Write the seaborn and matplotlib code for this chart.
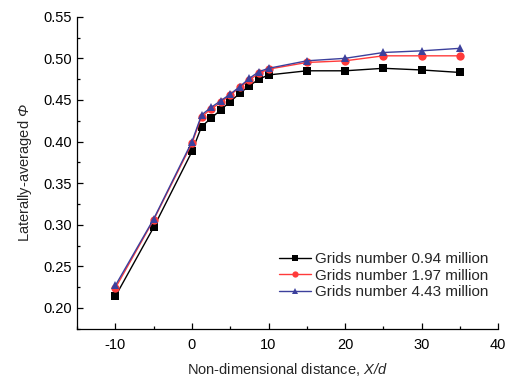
import matplotlib
matplotlib.use("Agg")
import matplotlib.pyplot as plt
import seaborn as sns
import pandas as pd
from matplotlib.ticker import MultipleLocator

x_vals = [-10, -5, 0, 1.25, 2.5, 3.75, 5, 6.25, 7.5, 8.75, 10, 15, 20, 25, 30, 35]
grid_094 = [0.214, 0.297, 0.388, 0.418, 0.428, 0.438, 0.448, 0.458, 0.467, 0.475, 0.480, 0.485, 0.485, 0.488, 0.486, 0.483]
grid_197 = [0.224, 0.306, 0.398, 0.430, 0.439, 0.447, 0.456, 0.465, 0.474, 0.482, 0.487, 0.495, 0.497, 0.503, 0.503, 0.503]
grid_443 = [0.227, 0.307, 0.400, 0.432, 0.441, 0.449, 0.457, 0.466, 0.476, 0.484, 0.488, 0.497, 0.500, 0.507, 0.509, 0.512]
labels = ["Grids number 0.94 million", "Grids number 1.97 million", "Grids number 4.43 million"]

rows = []
for lab, ys in zip(labels, [grid_094, grid_197, grid_443]):
    for xv, yv in zip(x_vals, ys):
        rows.append({"x": xv, "y": yv, "grid": lab})
df = pd.DataFrame(rows)

sns.set_style("ticks")
plt.rcParams['font.family'] = ['Liberation Sans', 'DejaVu Sans']
plt.rcParams['mathtext.fontset'] = 'custom'
plt.rcParams['mathtext.it'] = 'Liberation Sans:italic'
plt.rcParams['mathtext.rm'] = 'Liberation Sans:italic'
plt.rcParams['axes.unicode_minus'] = False

fig = plt.figure(figsize=(5.11, 3.8), dpi=100)
ax = fig.add_axes([0.151, 0.135, 0.824, 0.821])

palette = {labels[0]: "#000000", labels[1]: "#ff3a3a", labels[2]: "#3c409c"}
markers = {labels[0]: "s", labels[1]: "o", labels[2]: "^"}
sns.lineplot(data=df, x="x", y="y", hue="grid", style="grid", palette=palette,
             markers=markers, dashes=False, markersize=6, linewidth=1.0,
             markeredgewidth=0, ax=ax)

ax.set_xlim(-15, 40)
ax.set_ylim(0.175, 0.55)
ax.xaxis.set_major_locator(MultipleLocator(10))
ax.xaxis.set_minor_locator(MultipleLocator(5))
ax.yaxis.set_major_locator(MultipleLocator(0.05))
ax.yaxis.set_minor_locator(MultipleLocator(0.025))
ax.yaxis.set_major_formatter(matplotlib.ticker.FormatStrFormatter('%.2f'))
ax.tick_params(which='both', direction='in', labelsize=10.5, width=0.9, colors='black')
ax.tick_params(which='major', length=4)
ax.tick_params(which='minor', length=2.5)
ax.tick_params(axis='x', which='major', pad=7)
for s in ['top', 'right']:
    ax.spines[s].set_visible(False)
for s in ['left', 'bottom']:
    ax.spines[s].set_linewidth(0.9)
    ax.spines[s].set_color('black')

ax.set_xlabel("Non-dimensional distance, $X/d$", fontsize=10.5, labelpad=6)
ax.set_ylabel("Laterally-averaged $\u03a6$", fontsize=10.5, labelpad=7)

h, l = ax.get_legend_handles_labels()
ax.legend(h, l, frameon=False, loc='lower right', bbox_to_anchor=(1.01, 0.05),
          fontsize=11.0, handlelength=2.1, handletextpad=0.3, labelspacing=0.18,
          markerscale=0.75)

fig.savefig("out.png", dpi=100)
